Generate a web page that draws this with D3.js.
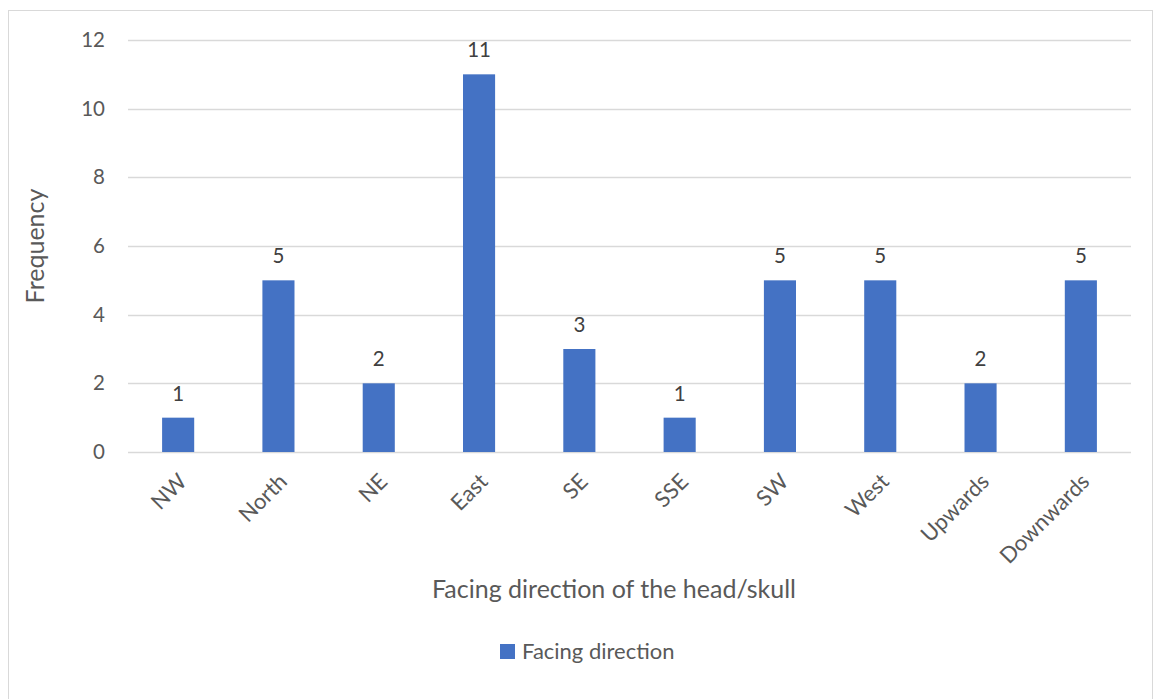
<!DOCTYPE html>
<html>
<head>
<meta charset="utf-8">
<script src="https://cdn.jsdelivr.net/npm/d3@7"></script>
<style>
  html, body { margin: 0; padding: 0; background: #fff; }
  svg { display: block; }
  text { font-family: Lato, "Open Sans", sans-serif; }
</style>
</head>
<body>
<svg id="chart" width="1153" height="699"></svg>
<script>
// Head/skull facing direction counts
const categories = ["NW", "North", "NE", "East", "SE", "SSE", "SW", "West", "Upwards", "Downwards"];
const frequencies = [1, 5, 2, 11, 3, 1, 5, 5, 2, 5];
const yTicks = [0, 2, 4, 6, 8, 10, 12];
const seriesName = "Facing direction";
const xTitle = "Facing direction of the head/skull";
const yTitle = "Frequency";

const svg = d3.select("#chart");
const W = 1153, H = 699;
const plot = { left: 128, right: 1131, top: 40, bottom: 452 };
const barColor = "#4472c4";
const textColor = "#595959";
const labelSize = 20.5;

// outer chart frame
svg.append("rect")
  .attr("x", 8.5).attr("y", 10.5)
  .attr("width", W - 9).attr("height", H)
  .attr("fill", "#fff").attr("stroke", "#d9d9d9").attr("stroke-width", 1);

const x = d3.scaleBand().domain(categories).range([plot.left, plot.right]).paddingInner(0.68).paddingOuter(0.34);
const y = d3.scaleLinear().domain([0, 12]).range([plot.bottom, plot.top]);

// gridlines
svg.append("g").selectAll("line").data(yTicks).join("line")
  .attr("x1", plot.left).attr("x2", plot.right)
  .attr("y1", d => Math.round(y(d)) + 0.5).attr("y2", d => Math.round(y(d)) + 0.5)
  .attr("stroke", "#d9d9d9").attr("stroke-width", 1.3);

// y axis labels
const yAxis = d3.axisLeft(y).tickValues(yTicks).tickSize(0).tickPadding(0);
const gy = svg.append("g").attr("transform", `translate(${plot.left - 23},0)`).call(yAxis);
gy.select(".domain").remove();
gy.selectAll("text").attr("fill", textColor).attr("font-size", labelSize).attr("font-family", "Lato, sans-serif");

// bars
svg.append("g").selectAll("rect").data(frequencies).join("rect")
  .attr("x", (d, i) => x(categories[i]))
  .attr("width", x.bandwidth())
  .attr("y", d => y(d))
  .attr("height", d => y(0) - y(d))
  .attr("fill", barColor);

// value labels
svg.append("g").selectAll("text").data(frequencies).join("text")
  .attr("x", (d, i) => x(categories[i]) + x.bandwidth() / 2)
  .attr("y", d => y(d) - 17)
  .attr("text-anchor", "middle")
  .attr("font-size", labelSize)
  .attr("fill", "#404040")
  .text(d => d);

// x axis category labels, rotated
const xAxis = d3.axisBottom(x).tickSize(0).tickPadding(0);
const gx = svg.append("g").attr("transform", `translate(0,${plot.bottom})`).call(xAxis);
gx.select(".domain").remove();
gx.selectAll("text")
  .attr("fill", textColor).attr("font-size", 22).attr("font-family", "Lato, sans-serif")
  .attr("text-anchor", "end")
  .attr("dy", null).attr("y", 0)
  .attr("transform", "translate(10,31) rotate(-45)");

// axis titles
svg.append("text")
  .attr("x", 614).attr("y", 598)
  .attr("text-anchor", "middle").attr("font-size", 25).attr("fill", textColor)
  .text(xTitle);

svg.append("text")
  .attr("transform", `translate(44,${(plot.top + plot.bottom) / 2}) rotate(-90)`)
  .attr("text-anchor", "middle").attr("font-size", 25).attr("fill", textColor)
  .text(yTitle);

// legend
const legend = svg.append("g").attr("transform", "translate(500,644)");
legend.append("rect").attr("width", 15).attr("height", 15).attr("fill", barColor);
legend.append("text").attr("x", 22).attr("y", 15).attr("font-size", 22).attr("fill", textColor).text(seriesName);
</script>
</body>
</html>
